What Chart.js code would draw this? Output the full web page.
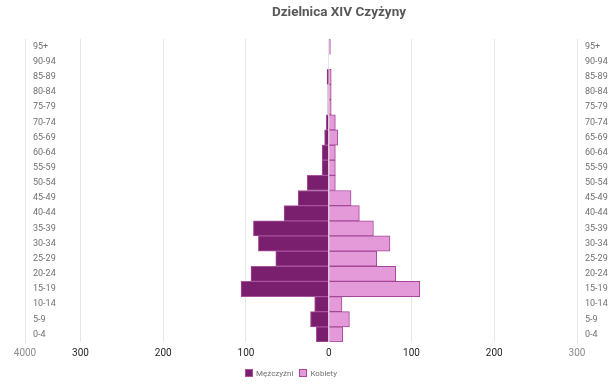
<!DOCTYPE html>
<html>
<head>
<meta charset="utf-8">
<script src="https://cdn.jsdelivr.net/npm/chart.js@4"></script>
<style>
  html, body { margin: 0; padding: 0; background: #fff; }
  #wrap { position: relative; width: 614px; height: 388px; }
  #tytul {
    position: absolute; top: 3px; left: 339px; transform: translateX(-50%);
    font: bold 13.5px Roboto, sans-serif; color: #595959; white-space: nowrap;
  }
  #legenda {
    position: absolute; top: 369px; left: 291px; transform: translateX(-50%);
    font: 8px Roboto, sans-serif; color: #707070; white-space: nowrap;
  }
  #legenda span { margin: 0 3px; }
  #legenda i {
    display: inline-block; width: 6px; height: 6px; margin-right: 3px;
    border: 1px solid; vertical-align: -1px;
  }
</style>
</head>
<body>
<div id="wrap">
  <div id="tytul">Dzielnica XIV Czyżyny</div>
  <canvas id="piramida" width="614" height="388"></canvas>
  <div id="legenda"></div>
</div>
<script>
// Grupy wieku (od najmłodszych)
const grupyWieku = ['0-4', '5-9', '10-14', '15-19', '20-24', '25-29', '30-34', '35-39', '40-44', '45-49',
                    '50-54', '55-59', '60-64', '65-69', '70-74', '75-79', '80-84', '85-89', '90-94', '95+'];
// Liczba osób w każdej grupie
const mezczyzni = [15, 22, 17, 106, 94, 64, 85, 91, 54, 37, 26, 8, 8, 5, 3, 1, 1, 2, 0, 0];
const kobiety   = [17, 25, 16, 110, 81, 58, 74, 54, 37, 27, 8, 8, 8, 11, 8, 3, 3, 3, 0, 2];
// Podziałka osi poziomej
const osXMin = -367;
const osXMax = 300;
const osXTicki = [osXMin, -300, -200, -100, 0, 100, 200, 300];

const ctx = document.getElementById('piramida').getContext('2d');

const wykres = new Chart(ctx, {
    type: 'bar',
    data: {
        labels: grupyWieku,
        datasets: [
            {
                label: 'Mężczyźni',
                data: mezczyzni.map(v => -v), // po lewej stronie
                backgroundColor: '#7a1f6d',
                borderColor: '#a8519c',
                borderWidth: 1,
                barPercentage: 1,
                categoryPercentage: 1
            },
            {
                label: 'Kobiety',
                data: kobiety,
                backgroundColor: '#e49ad9',
                borderColor: '#a5469a',
                borderWidth: 1,
                barPercentage: 1,
                categoryPercentage: 1
            }
        ]
    },
    options: {
        indexAxis: 'y',
        responsive: false,
        animation: false,
        layout: { padding: { top: 39, left: 25, right: 6, bottom: 24 } },
        scales: {
            x: {
                stacked: true,
                min: osXMin,
                max: osXMax,
                afterBuildTicks: axis => { axis.ticks = osXTicki.map(v => ({ value: v })); },
                grid: { color: '#e6e6e6', drawTicks: false },
                border: { display: false },
                ticks: {
                    padding: 5,
                    maxRotation: 0,
                    autoSkip: false,
                    font: { family: 'Roboto', size: 10 },
                    color: ctx => (ctx.index === 0 || ctx.index === osXTicki.length - 1) ? '#8c8c8c' : '#262626',
                    callback: v => v === osXMin ? '4000' : String(Math.abs(v))
                }
            },
            y: {
                stacked: true,
                reverse: true,
                afterFit: s => { s.width = 0; },
                grid: { display: false, drawTicks: false },
                border: { display: true, color: '#e6e6e6' },
                ticks: {
                    mirror: true,
                    padding: 8,
                    font: { family: 'Roboto', size: 9 },
                    color: '#707070'
                }
            },
            y2: {
                type: 'category',
                position: 'right',
                labels: grupyWieku,
                reverse: true,
                afterFit: s => { s.width = 31; },
                grid: { display: false, drawTicks: false },
                border: { display: true, color: '#e6e6e6' },
                ticks: {
                    padding: 8,
                    font: { family: 'Roboto', size: 9 },
                    color: '#707070'
                }
            }
        },
        plugins: {
            legend: { display: false },
            tooltip: { enabled: false }
        }
    }
});

// Legenda pod wykresem
document.getElementById('legenda').innerHTML = wykres.data.datasets.map(ds =>
    `<span><i style="background:${ds.backgroundColor};border-color:${ds.borderColor}"></i>${ds.label}</span>`
).join('');
</script>
</body>
</html>
